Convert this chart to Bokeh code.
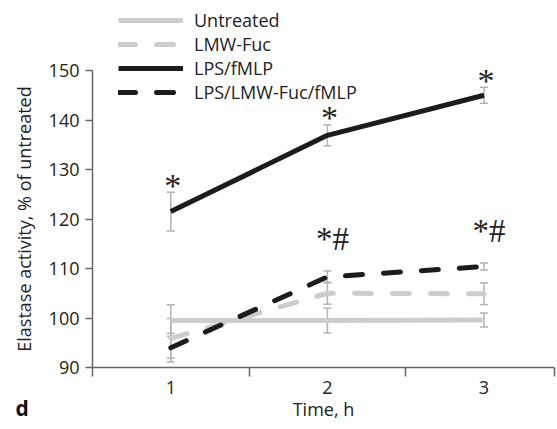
from bokeh.plotting import figure
from bokeh.models import (ColumnDataSource, Whisker, TeeHead, Legend, LegendItem,
                          LabelSet, Label, FixedTicker, Range1d)
from bokeh.embed import file_html
from bokeh.resources import INLINE

# ---- data ----
time_h = [1, 2, 3]
untreated = [99.5, 99.5, 99.6]
untreated_err = [3.2, 2.5, 1.4]
lmw_fuc = [95.9, 105.0, 104.9]
lmw_fuc_err = [4.0, 2.2, 2.2]
lps_fmlp = [121.5, 136.9, 145.0]
lps_fmlp_err = [3.9, 2.1, 1.6]
lps_lmw_fmlp = [94.0, 108.3, 110.4]
lps_lmw_fmlp_err = [2.9, 1.2, 0.7]
star_marks = ["*", "*", "*"]
hash_marks = ["", "*#", "*#"]
x_tick_labels = {1: "1", 2: "2", 3: "3"}
y_ticks = [90, 100, 110, 120, 130, 140, 150]
series_names = ["Untreated", "LMW-Fuc", "LPS/fMLP", "LPS/LMW-Fuc/fMLP"]

FONT = "Open Sans"
TXT = "#222222"
AXC = "#666666"
ERRC = "#b3b3b3"

# axis extents (data units) and the visible window around them
X_AXIS = (0.5, 3.45)
Y_AXIS = (90, 150)
W, H = 557, 429
PX_X = 156.6        # pixels per x unit
PX_Y = 4.95         # pixels per y unit
LEFT_PX, BOTTOM_PX = 92, 62
x_range = Range1d(X_AXIS[0] - LEFT_PX / PX_X, X_AXIS[0] + (W - LEFT_PX) / PX_X)
y_range = Range1d(Y_AXIS[0] - BOTTOM_PX / PX_Y, Y_AXIS[0] + (H - BOTTOM_PX) / PX_Y)


def up(v, e):
    return [a + b for a, b in zip(v, e)]


def lo(v, e):
    return [a - b for a, b in zip(v, e)]


src = ColumnDataSource(dict(
    x=time_h,
    u=untreated, u_up=up(untreated, untreated_err), u_lo=lo(untreated, untreated_err),
    m=lmw_fuc, m_up=up(lmw_fuc, lmw_fuc_err), m_lo=lo(lmw_fuc, lmw_fuc_err),
    l=lps_fmlp, l_up=up(lps_fmlp, lps_fmlp_err), l_lo=lo(lps_fmlp, lps_fmlp_err),
    k=lps_lmw_fmlp, k_up=up(lps_lmw_fmlp, lps_lmw_fmlp_err), k_lo=lo(lps_lmw_fmlp, lps_lmw_fmlp_err),
    stars=star_marks, hashes=hash_marks,
))

p = figure(width=W, height=H, x_range=x_range, y_range=y_range,
           output_backend="svg", toolbar_location=None,
           min_border=0, min_border_left=0, min_border_right=0,
           min_border_top=0, min_border_bottom=0)
p.outline_line_color = None
p.xgrid.visible = False
p.ygrid.visible = False
p.background_fill_color = "white"
p.border_fill_color = "white"

# axes (fixed at the data origin so that all texts sit inside the frame)
xa = p.xaxis[0]
xa.fixed_location = Y_AXIS[0]
xa.bounds = X_AXIS
xa.ticker = FixedTicker(ticks=time_h, minor_ticks=[X_AXIS[0], 1.5, 2.5, X_AXIS[1]])
xa.major_label_overrides = x_tick_labels
xa.major_tick_out = 0
xa.major_tick_in = 0
xa.minor_tick_out = 9
xa.minor_tick_in = 0
xa.minor_tick_line_color = AXC
xa.minor_tick_line_width = 1.5
xa.axis_line_color = AXC
xa.axis_line_width = 1.5
xa.major_label_text_font = FONT
xa.major_label_text_font_size = "18px"
xa.major_label_text_color = TXT
xa.major_label_standoff = 4
xa.axis_label = "Time, h"
xa.axis_label_text_font = FONT
xa.axis_label_text_font_size = "18px"
xa.axis_label_text_font_style = "normal"
xa.axis_label_text_color = TXT
xa.axis_label_standoff = 0

ya = p.yaxis[0]
ya.fixed_location = X_AXIS[0]
ya.bounds = Y_AXIS
ya.ticker = FixedTicker(ticks=y_ticks, minor_ticks=[])
ya.major_tick_out = 7
ya.major_tick_in = 0
ya.major_tick_line_color = AXC
ya.major_tick_line_width = 1.5
ya.minor_tick_line_color = None
ya.axis_line_color = AXC
ya.axis_line_width = 1.5
ya.major_label_text_font = FONT
ya.major_label_text_font_size = "18px"
ya.major_label_text_color = TXT
ya.major_label_standoff = 6
ya.axis_label = "Elastase activity, % of untreated"
ya.axis_label_text_font = FONT
ya.axis_label_text_font_size = "18px"
ya.axis_label_text_font_style = "normal"
ya.axis_label_text_color = TXT
ya.axis_label_standoff = 10

# error bars
for key in ["u", "m", "k", "l"]:
    w = Whisker(base="x", upper=key + "_up", lower=key + "_lo", source=src,
                line_color=ERRC, line_width=1.5, level="underlay",
                upper_head=TeeHead(size=8, line_color=ERRC, line_width=1.5),
                lower_head=TeeHead(size=8, line_color=ERRC, line_width=1.5))
    p.add_layout(w)

# lines
r_u = p.line("x", "u", source=src, line_color="#cdcdcd", line_width=5)
r_m = p.line("x", "m", source=src, line_color="#cdcdcd", line_width=5,
             line_dash="17 21", line_cap="round")
r_l = p.line("x", "l", source=src, line_color="#1c1c1c", line_width=5, line_join="round")
r_k = p.line("x", "k", source=src, line_color="#1c1c1c", line_width=5,
             line_dash="17 21", line_cap="round")

legend = Legend(items=[LegendItem(label=n, renderers=[r]) for n, r in
                       zip(series_names, [r_u, r_m, r_l, r_k])],
                location=(118, 325), glyph_width=65, glyph_height=20, label_height=20,
                spacing=0, padding=0, margin=0, label_standoff=11,
                border_line_color=None, background_fill_alpha=0,
                label_text_font=FONT, label_text_font_size="18px", label_text_color=TXT)
p.add_layout(legend)

# significance marks
p.add_layout(LabelSet(x="x", y="l_up", text="stars", source=src, text_align="center",
                      text_baseline="middle", x_offset=2, y_offset=7,
                      text_font=FONT, text_font_size="34px", text_color="#222222"))
p.add_layout(LabelSet(x="x", y="k_up", text="hashes", source=src, text_align="center",
                      text_baseline="middle", x_offset=5, y_offset=32,
                      text_font=FONT, text_font_size="33px", text_color="#222222"))

# panel letter
p.add_layout(Label(x=15, y=22, x_units="screen", y_units="screen", text="d",
                   text_font=FONT, text_font_size="21px", text_font_style="bold",
                   text_color="#111111", text_baseline="alphabetic", text_align="left"))

open("out.html", "w").write(file_html(p, INLINE))
